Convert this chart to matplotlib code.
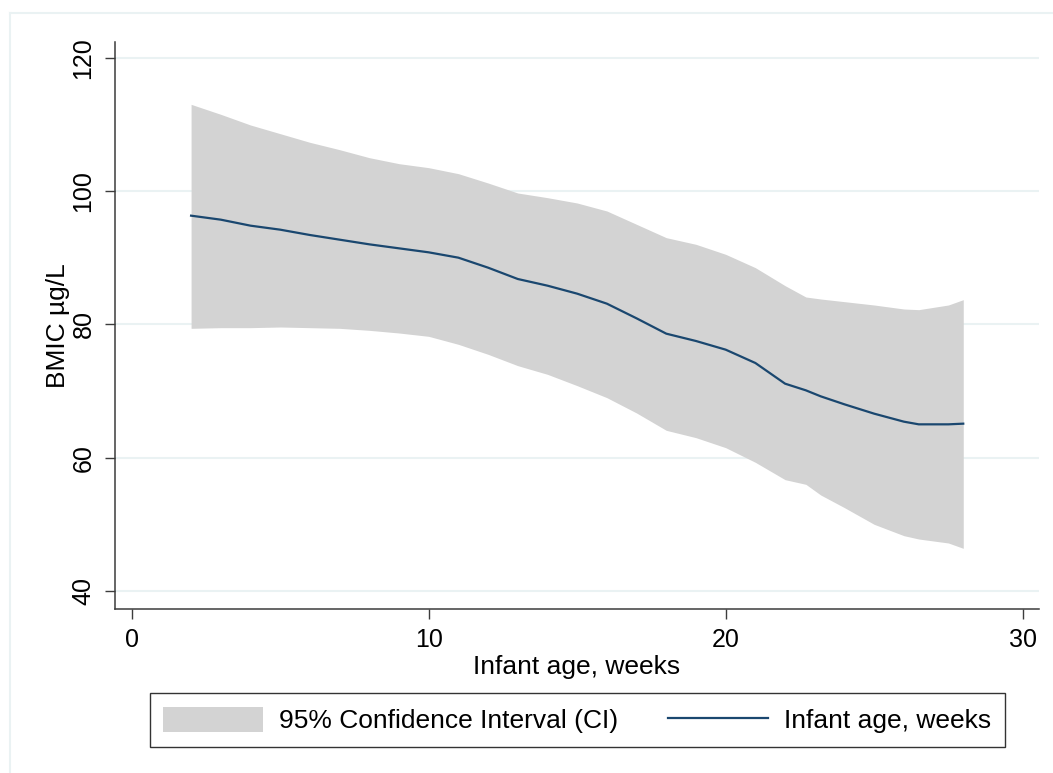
import matplotlib.pyplot as plt
from matplotlib.lines import Line2D

plt.rcParams['font.family'] = ['Liberation Sans', 'DejaVu Sans']

# infant age (weeks) and fitted BMIC with 95% CI
age = [2, 3, 4, 5, 6, 7, 8, 9, 10, 11, 12, 13, 14, 15, 16, 17, 18, 19, 20,
       21, 22, 22.7, 23.2, 24, 25, 26, 26.5, 27.5, 28]
bmic = [96.3, 95.7, 94.8, 94.2, 93.4, 92.7, 92.0, 91.4, 90.8, 90.0, 88.5,
        86.8, 85.8, 84.6, 83.1, 80.9, 78.6, 77.5, 76.2, 74.2, 71.1, 70.1,
        69.2, 68.0, 66.6, 65.4, 65.0, 65.0, 65.1]
ci_upper = [113.0, 111.5, 109.9, 108.6, 107.3, 106.2, 105.0, 104.1, 103.5,
            102.6, 101.2, 99.7, 99.0, 98.2, 97.0, 95.0, 93.0, 92.0, 90.5,
            88.5, 85.8, 84.1, 83.8, 83.4, 82.9, 82.3, 82.2, 82.9, 83.7]
ci_lower = [79.4, 79.5, 79.5, 79.6, 79.5, 79.4, 79.1, 78.7, 78.2, 77.0, 75.5,
            73.8, 72.5, 70.8, 69.0, 66.7, 64.1, 63.0, 61.5, 59.3, 56.7, 56.0,
            54.4, 52.5, 50.0, 48.3, 47.8, 47.2, 46.4]

x_ticks = [0, 10, 20, 30]
y_ticks = [40, 60, 80, 100, 120]

band_color = '#D3D3D3'
line_color = '#1A476F'
grid_color = '#EAF2F3'
axis_color = '#3C3C3C'

fig = plt.figure(figsize=(10.53, 7.73), dpi=100)
ax = fig.add_axes([115 / 1053, 1 - 609 / 773, (1039 - 115) / 1053, (609 - 42) / 773])

# outer graph region frame (only top and left visible)
fig.add_artist(Line2D([10 / 1053, 10 / 1053], [0, 1 - 13 / 773],
                      transform=fig.transFigure, color=grid_color, lw=1.5))
fig.add_artist(Line2D([10 / 1053, 1], [1 - 13 / 773, 1 - 13 / 773],
                      transform=fig.transFigure, color=grid_color, lw=1.5))

for yt in y_ticks:
    ax.axhline(yt, color=grid_color, lw=1.5, zorder=0)

ax.fill_between(age, ci_lower, ci_upper, color=band_color, lw=0,
                label='95% Confidence Interval (CI)', zorder=1)
ax.plot(age, bmic, color=line_color, lw=1.6, label='Infant age, weeks', zorder=2)

ax.set_xlim(-0.562, 30.55)
ax.set_ylim(37.3, 122.35)
ax.set_xticks(x_ticks)
ax.set_yticks(y_ticks)
ax.tick_params(axis='both', length=7, width=1, color=axis_color, labelsize=18)
ax.tick_params(axis='x', pad=7)
ax.tick_params(axis='y', pad=7)
plt.setp(ax.get_yticklabels(), rotation=90, va='center')

for side in ['top', 'right']:
    ax.spines[side].set_visible(False)
for side in ['left', 'bottom']:
    ax.spines[side].set_color(axis_color)
    ax.spines[side].set_linewidth(1.1)

ax.set_xlabel('Infant age, weeks', fontsize=19, labelpad=2)
ax.set_ylabel('BMIC µg/L', fontsize=19, labelpad=1)

handles, labels = ax.get_legend_handles_labels()
leg = fig.legend(handles, labels, loc='center', bbox_to_anchor=(577 / 1053, 1 - 720 / 773),
                 ncol=2, fontsize=19, frameon=True, fancybox=False,
                 handlelength=3.8, handleheight=1.1, handletextpad=0.6,
                 columnspacing=1.9, borderpad=0.5)
leg.get_frame().set_edgecolor('black')
leg.get_frame().set_linewidth(1.0)

plt.savefig('out.png', dpi=100, facecolor='white')
